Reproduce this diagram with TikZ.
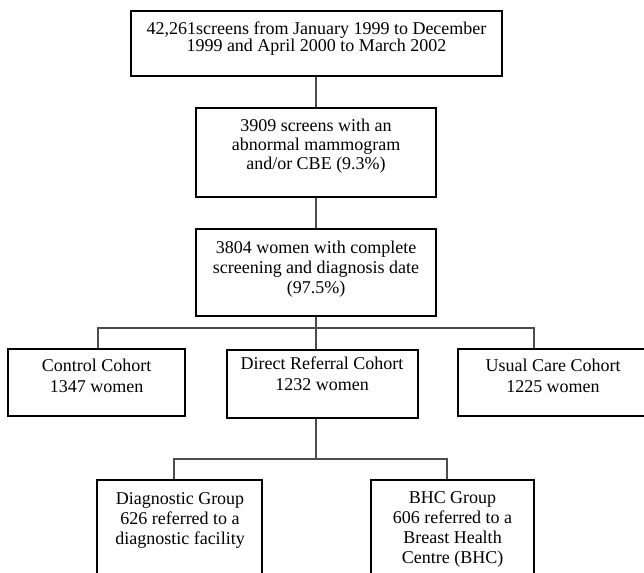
\documentclass[tikz,border=0pt]{standalone}
\usepackage{fontspec}
\setmainfont{Liberation Serif}
\begin{document}
\lineskiplimit=-20pt
\begin{tikzpicture}[x=1pt,y=-1pt,
  box/.style={draw=black, line width=1.1pt, inner sep=0pt},
  txt/.style={align=center, inner sep=0pt, anchor=north},
  conn/.style={draw=black!70, line width=1.1pt},
  fs/.style={font=\fontsize{18}{#1}\selectfont}]
\useasboundingbox (0,0) rectangle (644,572);
\clip (0,0) rectangle (644,572);
% boxes
\node[box, minimum width=371pt, minimum height=65pt] (b1) at (316.5,43.5) {};
\node[box, minimum width=240pt, minimum height=89pt] (b2) at (316,152.5) {};
\node[box, minimum width=240pt, minimum height=87pt] (b3) at (316,272.5) {};
\node[box, minimum width=177pt, minimum height=67pt] (ctrl) at (96.5,382.5) {};
\node[box, minimum width=191pt, minimum height=68pt] (drc) at (322.5,384) {};
\node[box, minimum width=188pt, minimum height=67pt] (usual) at (552,382.5) {};
\node[box, minimum width=165pt, minimum height=120pt] (diag) at (179.5,540) {};
\node[box, minimum width=163pt, minimum height=120pt] (bhc) at (452.5,540) {};
% texts
\node[txt, fs=16.5] (t1) at (316.5,22) {42,261screens from January 1999 to December\\1999 and April 2000 to March 2002};
\node[txt, fs=19] (t2) at (316,119) {3909 screens with an\\abnormal mammogram\\and/or CBE (9.3\%)};
\node[txt, fs=20] (t3) at (316,241) {3804 women with complete\\screening and diagnosis date\\(97.5\%)};
\node[txt, fs=21] (t4) at (96.7,359) {Control Cohort\\1347 women};
\node[txt, fs=21] (t5) at (322,357) {Direct Referral Cohort\\1232 women};
\node[txt, fs=21] (t6) at (553,359) {Usual Care Cohort\\1225 women};
\node[txt, fs=20] (t7) at (180,492) {Diagnostic Group\\626 referred to a\\diagnostic facility};
\node[txt, fs=20] (t8) at (452.5,491) {BHC Group\\606 referred to a\\Breast Health\\Centre (BHC)};
% connector points
\coordinate (j1) at (316,328);
\coordinate (jl) at (98,328);
\coordinate (jr) at (534,328);
\coordinate (j2) at (316,459);
\coordinate (kl) at (174,459);
\coordinate (kr) at (447,459);
% connectors
\draw[conn] (b2.north |- b1.south) -- (b2.north);
\draw[conn] (b2.south) -- (b3.north);
\draw[conn] (b3.south) -- (b3.south |- drc.north);
\draw[conn] (jl |- ctrl.north) -- (jl) -- (jr) -- (jr |- usual.north);
\draw[conn] (j1 |- drc.south) -- (j2);
\draw[conn] (kl |- diag.north) -- (kl) -- (kr) -- (kr |- bhc.north);
\end{tikzpicture}
\end{document}
